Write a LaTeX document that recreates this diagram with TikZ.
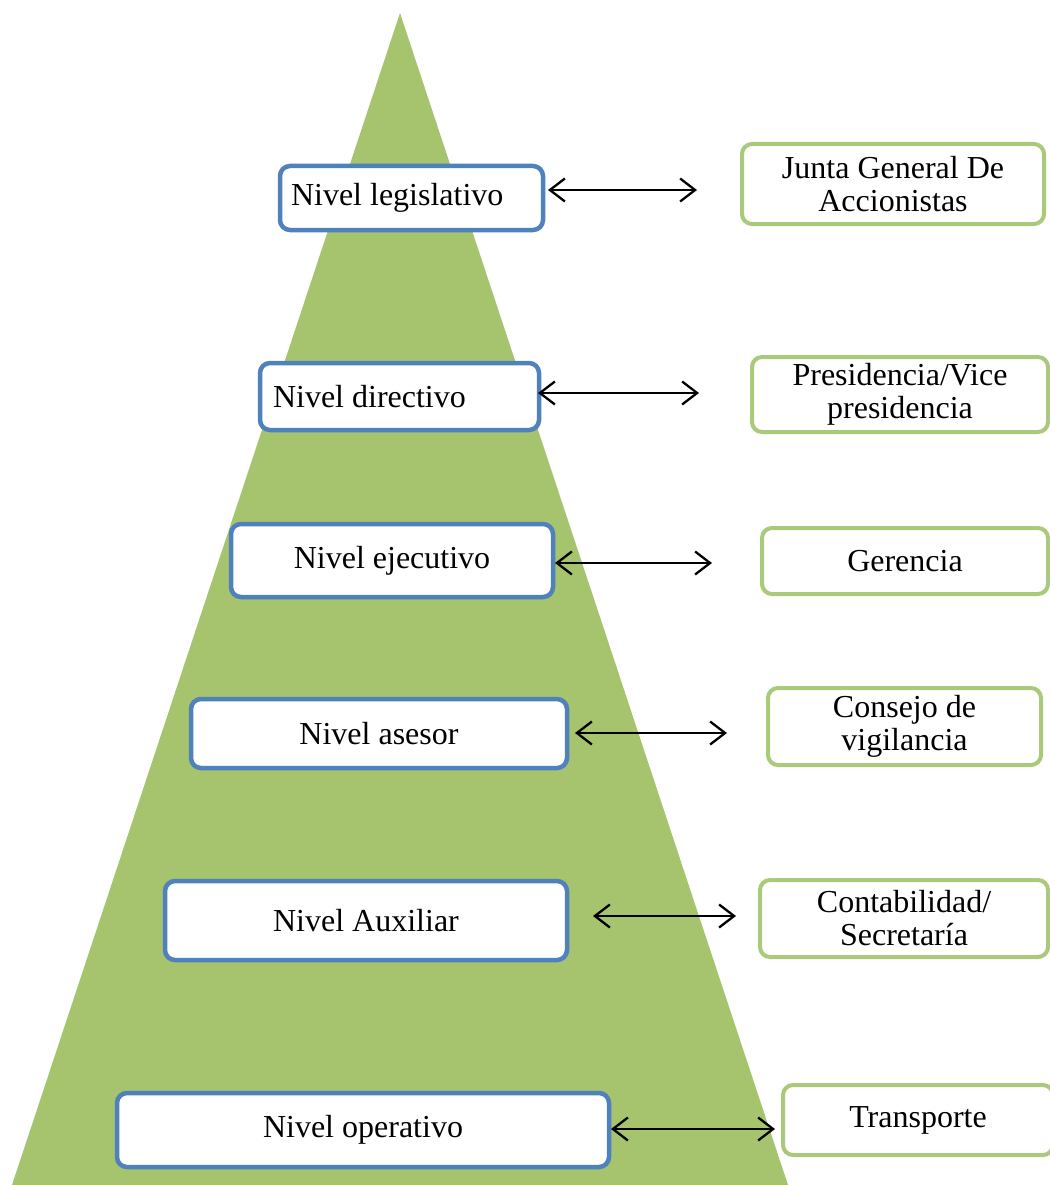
\documentclass[tikz,border=0pt]{standalone}
\usepackage{fontspec}
\setmainfont{Liberation Serif}
\usetikzlibrary{arrows.meta}
\definecolor{pyramid}{HTML}{A6C36E}
\definecolor{levelblue}{HTML}{4F81BD}
\definecolor{unitgreen}{HTML}{A9C97B}
\tikzset{
  level/.style={draw=levelblue, line width=4.5pt, fill=white, rounded corners=10pt,
    inner sep=0pt, font=\fontsize{32}{33}\selectfont},
  unit/.style={draw=unitgreen, line width=4pt, fill=white, rounded corners=10pt,
    inner sep=0pt, align=center, font=\fontsize{32}{33}\selectfont},
  link/.style={line width=2.3pt, {Straight Barb[length=15pt,width=23pt]}-{Straight Barb[length=15pt,width=23pt]}}
}
\begin{document}
\begin{tikzpicture}[x=1pt, y=-1pt]
\useasboundingbox (0,0) rectangle (1049,1185);
% pyramid
\fill[pyramid] (400,13) -- (788,1185) -- (12,1185) -- cycle;

% organisational levels (left column)
\node[level, minimum height=64pt, inner xsep=11pt, text width=241pt, align=flush left] (l1) at (411.5,198) {Nivel legislativo};
\node[level, minimum height=67pt, inner xsep=13pt, text width=253pt, align=flush left] (l2) at (399.5,396.5) {Nivel directivo};
\node[level, minimum width=322pt, minimum height=73pt] (l3) at (392,560.5) {Nivel ejecutivo};
\node[level, minimum width=376pt, minimum height=69pt] (l4) at (379,733.5) {Nivel asesor};
\node[level, minimum width=402pt, minimum height=79pt] (l5) at (366,920.5) {Nivel Auxiliar};
\node[level, minimum width=492pt, minimum height=74pt] (l6) at (363,1130) {Nivel operativo};

% corresponding units (right column)
\node[unit, minimum width=302pt, minimum height=80pt] (r1) at (893,184) {Junta General De\\Accionistas};
\node[unit, minimum width=296pt, minimum height=75pt] (r2) at (900,394.5) {Presidencia/Vice\\presidencia};
\node[unit, minimum width=286pt, minimum height=66pt] (r3) at (905,561) {Gerencia};
\node[unit, minimum width=273pt, minimum height=77pt] (r4) at (904.5,726.5) {Consejo de\\vigilancia};
\node[unit, minimum width=288pt, minimum height=77pt] (r5) at (904,918.5) {Contabilidad/\\Secretaría};
\node[unit, minimum width=270pt, minimum height=70pt] (r6) at (918,1120) {Transporte};

% connector end points
\coordinate (a1) at (548,190);  \coordinate (b1) at (697,190);
\coordinate (a2) at (538,393);  \coordinate (b2) at (699,393);
\coordinate (a3) at (555,563);  \coordinate (b3) at (712,563);
\coordinate (a4) at (575,733);  \coordinate (b4) at (727,733);
\coordinate (a5) at (593,916);  \coordinate (b5) at (736,916);
\coordinate (a6) at (611,1129); \coordinate (b6) at (775,1129);

\foreach \i in {1,...,6} \draw[link] (a\i) -- (b\i);
\end{tikzpicture}
\end{document}
